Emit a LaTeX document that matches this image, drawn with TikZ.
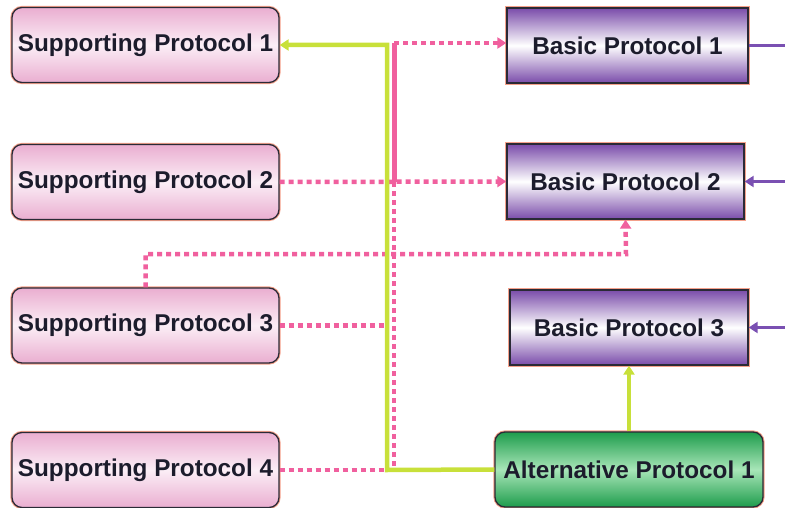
\documentclass[tikz,border=0pt]{standalone}
\usepackage{fontspec}
\setmainfont{Liberation Sans}
\usetikzlibrary{arrows.meta}

\definecolor{inktext}{HTML}{1C1C2C}
\definecolor{boxline}{HTML}{2A2A36}
\definecolor{rim}{HTML}{F4A08A}
\definecolor{suppink}{HTML}{EAAED0}
\definecolor{suplight}{HTML}{FBEEF6}
\definecolor{basicpurple}{HTML}{7A4CAA}
\definecolor{altgreen}{HTML}{1E9C4C}
\definecolor{altlight}{HTML}{A8E6B8}
\definecolor{limeline}{HTML}{C8E03A}
\definecolor{pinkline}{HTML}{F0609E}
\definecolor{violetline}{HTML}{7A50B2}

\tikzset{
  x=1pt, y=-1pt,
  proto/.style={minimum height=75pt, inner sep=0pt, text=inktext,
    font=\fontsize{24.3}{27}\selectfont\bfseries,
    draw=boxline, line width=1.3pt,
    preaction={draw=rim, line width=3.2pt}},
  supbox/.style={proto, rounded corners=10pt, minimum width=267pt,
    top color=suppink, bottom color=suppink, middle color=suplight},
  basicbox/.style={proto,
    top color=basicpurple, bottom color=basicpurple, middle color=white},
  altbox/.style={proto, rounded corners=10pt, minimum width=268pt,
    top color=altgreen, bottom color=altgreen, middle color=altlight},
  tip/.style={-{Triangle[length=9pt,width=11pt]}},
  limelink/.style={draw=limeline, line width=4.5pt},
  pinksolid/.style={draw=pinkline, line width=5pt},
  pinkdots/.style={draw=pinkline, line width=4.5pt, dash pattern=on 5pt off 4pt},
  violetlink/.style={draw=violetline, line width=3pt},
}

\begin{document}
\begin{tikzpicture}
  \useasboundingbox (0,0) rectangle (785,508);

  % supporting protocols, left column
  \node[supbox] (sp1) at (145.5,45)  {Supporting Protocol 1};
  \node[supbox] (sp2) at (145.5,182) {Supporting Protocol 2};
  \node[supbox] (sp3) at (145.5,325.5) {Supporting Protocol 3};
  \node[supbox] (sp4) at (145.5,470) {Supporting Protocol 4};

  % basic protocols, right column
  \node[basicbox, minimum width=241pt] (bp1) at (627.5,45.5) {Basic Protocol 1};
  \node[basicbox, minimum width=237pt] (bp2) at (625.5,181.5) {Basic Protocol 2};
  \node[basicbox, minimum width=238pt] (bp3) at (629,327.5) {Basic Protocol 3};
  \node[altbox] (alt) at (629,469.5) {Alternative Protocol 1};

  % junction points of the trunk lines
  \coordinate (gtrunk) at (387,470);
  \coordinate (ptop) at (394,43);
  \coordinate (pmid) at (394,182);
  \coordinate (pbot) at (394,470);
  \coordinate (bend) at (626,254);
  \coordinate (e1) at (785,45.5);
  \coordinate (e2) at (785,181.5);
  \coordinate (e3) at (785,327.5);

  % pink dotted links
  \draw[pinkdots] (pmid) -- (pbot);
  \draw[pinkdots] (sp3.east) -- (sp3.east -| gtrunk);
  \draw[pinkdots] (sp4.east) -- (sp4.east -| gtrunk);
  \draw[pinkdots, tip] (sp3.north) |- (bend) -- (bp2.south);
  \draw[pinkdots, tip] (sp2.east) -- (bp2.west);
  \draw[pinkdots, tip] (ptop) -- (ptop -| bp1.west);

  % lime links from the alternative protocol
  \draw[limelink, tip] (alt.west) -- (gtrunk) |- (sp1.east);
  \draw[limelink, tip] (alt.north) -- (bp3.south);

  % pink solid trunk segment
  \draw[pinksolid] (ptop) -- (pmid);

  % violet links at the right edge
  \draw[violetlink] (bp1.east) -- (e1);
  \draw[violetlink, tip] (e2) -- (bp2.east);
  \draw[violetlink, tip] (e3) -- (bp3.east);
\end{tikzpicture}
\end{document}
